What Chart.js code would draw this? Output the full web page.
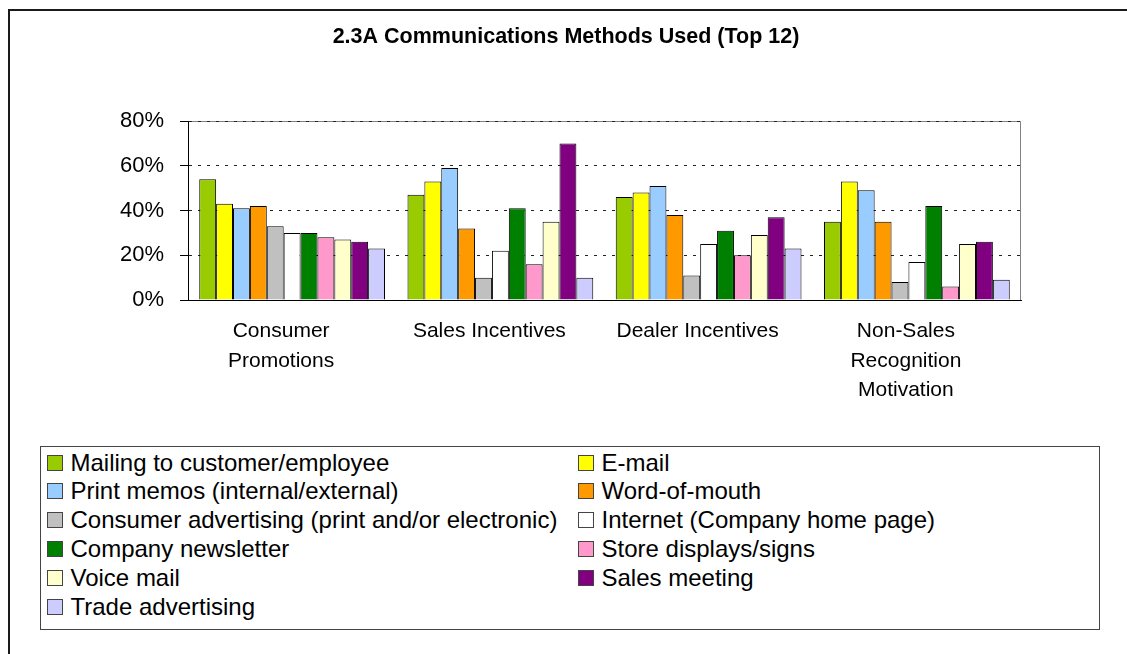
<!DOCTYPE html>
<html>

<head>
    <title>Communications Methods Used</title>
    <meta name="viewport" content="width=device-width, initial-scale=1.0">
    <script src="https://cdn.jsdelivr.net/npm/chart.js"></script>
    <style type="text/css">
        body {
            margin: 0;
            background: #fff;
            font-family: "Liberation Sans", Arial, sans-serif;
        }

        #wrap {
            position: relative;
            width: 1127px;
            height: 654px;
            overflow: hidden;
        }

        #frame {
            position: absolute;
            left: 8px;
            top: 9px;
            width: 1200px;
            height: 800px;
            border: 2px solid #1a1a1a;
        }

        #myChart {
            position: absolute;
            left: 0;
            top: 0;
        }

        #legend {
            position: absolute;
            left: 40px;
            top: 446px;
            width: 1058px;
            height: 182px;
            border: 1.5px solid #444;
            background: #fff;
        }

        .item {
            position: absolute;
            font-size: 24px;
            line-height: 28px;
            color: #000;
            white-space: nowrap;
        }

        .item i {
            position: absolute;
            left: -24px;
            top: 6px;
            width: 14px;
            height: 14px;
            border: 1px solid #444;
        }
    </style>
</head>

<body>
    <div id="wrap">
        <div id="frame"></div>
        <canvas id="myChart" width="1127" height="654"></canvas>
        <div id="legend"></div>
    </div>

    <script>
        const categories = [['Consumer', 'Promotions'], 'Sales Incentives', 'Dealer Incentives', ['Non-Sales', 'Recognition', 'Motivation']];
        const seriesNames = ['Mailing to customer/employee', 'E-mail', 'Print memos (internal/external)', 'Word-of-mouth',
            'Consumer advertising (print and/or electronic)', 'Internet (Company home page)', 'Company newsletter',
            'Store displays/signs', 'Voice mail', 'Sales meeting', 'Trade advertising'];
        const seriesColors = ['#99cc00', '#ffff00', '#99ccff', '#ff9900', '#c0c0c0', '#ffffff', '#008000',
            '#ff99cc', '#ffffcc', '#800080', '#ccccff'];

        // percent values per category
        const mailing = [54, 47, 46, 35];
        const email = [43, 53, 48, 53];
        const printMemos = [41, 59, 51, 49];
        const wordOfMouth = [42, 32, 38, 35];
        const consumerAdv = [33, 10, 11, 8];
        const internet = [30, 22, 25, 17];
        const newsletter = [30, 41, 31, 42];
        const storeDisplays = [28, 16, 20, 6];
        const voiceMail = [27, 35, 29, 25];
        const salesMeeting = [26, 70, 37, 26];
        const tradeAdv = [23, 10, 23, 9];
        const yTicks = [0, 20, 40, 60, 80];

        const seriesValues = [mailing, email, printMemos, wordOfMouth, consumerAdv, internet,
            newsletter, storeDisplays, voiceMail, salesMeeting, tradeAdv];

        const font = "'Liberation Sans', Arial, sans-serif";

        // gray frame round the plot area, drawn under the dotted grid
        const plotFrame = {
            id: 'plotFrame',
            beforeDraw(chart) {
                const a = chart.chartArea;
                const c = chart.ctx;
                c.save();
                c.strokeStyle = '#808080';
                c.lineWidth = 1;
                c.beginPath();
                c.moveTo(a.left, a.top + 0.5);
                c.lineTo(a.right - 0.5, a.top + 0.5);
                c.lineTo(a.right - 0.5, a.bottom);
                c.stroke();
                c.restore();
            }
        };

        var ctx = document.getElementById('myChart').getContext('2d');
        var myChart = new Chart(ctx, {
            type: 'bar',
            data: {
                labels: categories,
                datasets: seriesNames.map((name, i) => ({
                    label: name,
                    data: seriesValues[i],
                    backgroundColor: seriesColors[i],
                    borderColor: '#000',
                    borderWidth: 1,
                    categoryPercentage: 0.892,
                    barPercentage: 1.0
                }))
            },
            options: {
                responsive: false,
                animation: false,
                layout: { padding: { left: 111, right: 106, top: 0, bottom: 254 } },
                plugins: {
                    legend: { display: false },
                    tooltip: { enabled: false },
                    title: {
                        display: true,
                        text: '2.3A Communications Methods Used (Top 12)',
                        color: '#000',
                        font: { family: font, size: 21.5, weight: 'bold', lineHeight: 1.2 },
                        padding: { top: 24.5, bottom: 70.7 }
                    }
                },
                scales: {
                    x: {
                        grid: { display: false, drawTicks: false },
                        border: { display: true, color: '#000', width: 1 },
                        ticks: {
                            color: '#000',
                            font: { family: font, size: 21, lineHeight: 1.4 },
                            padding: 17,
                            labelOffset: -11,
                            maxRotation: 0,
                            autoSkip: false
                        },
                        afterFit: (s) => { s.height = 100; }
                    },
                    y: {
                        min: 0,
                        max: 80,
                        afterBuildTicks: (s) => { s.ticks = yTicks.map(v => ({ value: v })); },
                        grid: {
                            color: '#222',
                            tickLength: 8,
                            tickColor: '#000',
                            tickBorderDash: []
                        },
                        border: { display: true, color: '#000', width: 1, dash: [3, 6] },
                        ticks: {
                            color: '#000',
                            font: { family: font, size: 22 },
                            padding: 16,
                            callback: v => v + '%'
                        },
                        afterFit: (s) => { s.width = 77; }
                    }
                }
            },
            plugins: [plotFrame]
        });

        // two-column legend, row by row like the original
        const legend = document.getElementById('legend');
        seriesNames.forEach((name, i) => {
            const el = document.createElement('div');
            el.className = 'item';
            el.style.left = (i % 2 === 0 ? 29.5 : 560.5) + 'px';
            el.style.top = (1.5 + Math.floor(i / 2) * 28.8) + 'px';
            el.innerHTML = '<i></i>' + name;
            el.querySelector('i').style.background = seriesColors[i];
            legend.appendChild(el);
        });
    </script>
</body>

</html>
